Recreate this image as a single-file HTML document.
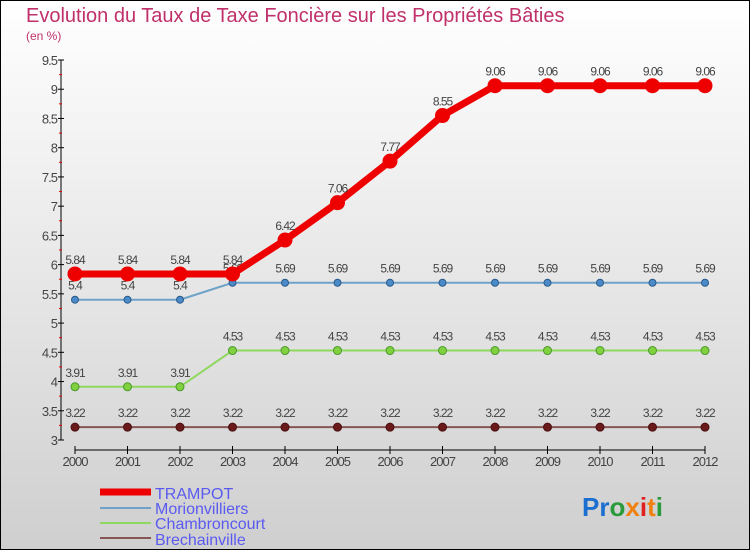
<!DOCTYPE html>
<html><head><meta charset="utf-8"><style>
body{margin:0}
#c{width:750px;height:550px;position:relative;overflow:hidden;font-family:"Liberation Sans",sans-serif}
</style></head><body>
<div id="c">
<svg width="750" height="550" id="svg">
<defs><linearGradient id="bg" x1="0" y1="0" x2="0" y2="1"><stop offset="0" stop-color="#ffffff"/><stop offset="1" stop-color="#cfcfcf"/></linearGradient></defs>
<rect x="0.5" y="0.5" width="749" height="549" fill="url(#bg)" stroke="#000"/>
<text x="26" y="22" font-size="20" fill="#c0306a">Evolution du Taux de Taxe Foncière sur les Propriétés Bâties</text>
<text x="26" y="40" font-size="12" fill="#c0306a">(en %)</text>
<g id="axes"></g><g id="series"></g>
<g>
<line x1="100" y1="492" x2="151" y2="492" stroke="#ee0000" stroke-width="7"/>
<text x="155" y="499" font-size="16" fill="#5a5af0">TRAMPOT</text>
<line x1="100" y1="508" x2="151" y2="508" stroke="#6fa2c8" stroke-width="2"/>
<text x="155" y="514" font-size="16" fill="#5a5af0">Morionvilliers</text>
<line x1="100" y1="523" x2="151" y2="523" stroke="#8fd860" stroke-width="2"/>
<text x="155" y="529" font-size="16" fill="#5a5af0">Chambroncourt</text>
<line x1="100" y1="538" x2="151" y2="538" stroke="#885555" stroke-width="2"/>
<text x="155" y="545" font-size="16" fill="#5a5af0">Brechainville</text>
</g>
<text x="582" y="516" font-size="26" font-weight="bold"><tspan fill="#1a6fd0">Pr</tspan><tspan fill="#2a9a3a">o</tspan><tspan fill="#f08010">x</tspan><tspan fill="#e02020">i</tspan><tspan fill="#f08010">t</tspan><tspan fill="#2a9a3a">i</tspan></text>
</svg>
</div>
<script>
const years=[2000,2001,2002,2003,2004,2005,2006,2007,2008,2009,2010,2011,2012];
const trampot=[5.84,5.84,5.84,5.84,6.42,7.06,7.77,8.55,9.06,9.06,9.06,9.06,9.06];
const morion=[5.4,5.4,5.4,5.69,5.69,5.69,5.69,5.69,5.69,5.69,5.69,5.69,5.69];
const chamb=[3.91,3.91,3.91,4.53,4.53,4.53,4.53,4.53,4.53,4.53,4.53,4.53,4.53];
const brech=[3.22,3.22,3.22,3.22,3.22,3.22,3.22,3.22,3.22,3.22,3.22,3.22,3.22];
const yTicks=[3,3.5,4,4.5,5,5.5,6,6.5,7,7.5,8,8.5,9,9.5];
const NS='http://www.w3.org/2000/svg';
const X=i=>75+i*52.5, Y=v=>440-(v-3)*380/6.5;
function mk(t,a,p){const e=document.createElementNS(NS,t);for(const k in a)e.setAttribute(k,a[k]);p.appendChild(e);return e;}
const ax=document.getElementById('axes'), sg=document.getElementById('series');
const ya=mk('line',{x1:61,y1:60,x2:61,y2:440,stroke:'#000','stroke-width':1},ax);


yTicks.forEach(v=>{mk('line',{x1:58,y1:Y(v),x2:64,y2:Y(v),stroke:'#000'},ax);
 if(v<9.5)mk('line',{x1:59,y1:Y(v+0.25),x2:62,y2:Y(v+0.25),stroke:'#e00'},ax);
 const t=mk('text',{x:57,y:Y(v)+5,'font-size':13,'text-anchor':'end',fill:'#444','letter-spacing':'-1'},ax);t.textContent=String(v);
 
 });
const xa=mk('line',{x1:75,y1:450,x2:705,y2:450,stroke:'#000'},ax);


years.forEach((y,i)=>{mk('line',{x1:X(i),y1:446,x2:X(i),y2:454,stroke:'#000'},ax);
 const t=mk('text',{x:X(i),y:466,'font-size':13,'text-anchor':'middle',fill:'#444','letter-spacing':'-1'},ax);t.textContent=y;
 
 });
function series(d,name,col,w,r,dot,stroke){
 const g=mk('g',{},sg);
 
 
 mk('polyline',{points:d.map((v,i)=>X(i)+','+Y(v)).join(' '),fill:'none',stroke:col,'stroke-width':w},g);
 d.forEach((v,i)=>{const c=mk('circle',{cx:X(i),cy:Y(v),r:r,fill:dot,stroke:stroke,'stroke-width':1},g);
  
  
  const t=mk('text',{x:X(i),y:Y(v)-10,'font-size':12,'text-anchor':'middle',fill:'#444','letter-spacing':'-1'},g);t.textContent=String(v);
  
  });
}
series(brech,'brechainville-series','#885555',2,4,'#6a1a1a','#4a1010');
series(chamb,'chambroncourt-series','#8fd860',2,4,'#80d040','#4a9a2a');
series(morion,'morionvilliers-series','#6fa2c8',2,3.5,'#4a8ac8','#2a5a8a');
series(trampot,'trampot-series','#ee0000',7,7,'#ee0000','#ee0000');
</script>
</body></html>
